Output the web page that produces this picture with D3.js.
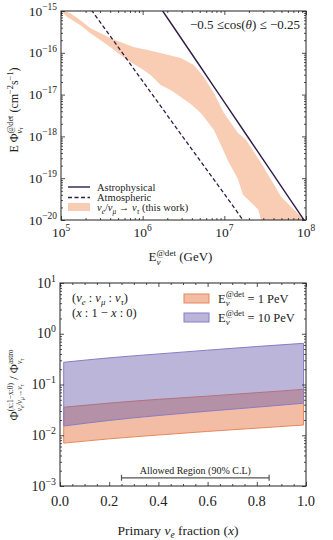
<!DOCTYPE html>
<html>
<head>
  <meta charset="utf-8">
  <script src="https://d3js.org/d3.v7.min.js"></script>
  <style>
    body { margin: 0; background: #fff; }
    text { white-space: pre; }
  </style>
</head>
<body>
<script>
  "use strict";

  // ---- top panel: tau flux at detector vs energy ----
  var energyTicks = [1e5, 1e6, 1e7, 1e8];
  var energyExp = ["5", "6", "7", "8"];
  var fluxTicks = [1e-15, 1e-16, 1e-17, 1e-18, 1e-19, 1e-20];
  var fluxExp = ["\u221215", "\u221216", "\u221217", "\u221218", "\u221219", "\u221220"];

  var astroE = [1e6, 2e6, 5e6, 1e7, 2e7, 5e7, 1e8];
  var astroFlux = [5.0e-15, 6.9e-16, 4.9e-17, 6.6e-18, 8.9e-19, 6.3e-20, 8.5e-21];

  var atmoE = [1e5, 2e5, 3e5, 1e6, 3e6, 1e7, 2e7];
  var atmoFlux = [1.1e-14, 1.66e-15, 5.5e-16, 2.1e-17, 1.07e-18, 4.2e-20, 6.3e-21];

  var bandUpE = [1e5, 1.29e5, 1.71e5, 2.28e5, 3.02e5, 4.01e5, 5.33e5, 7.7e5, 1.15e6, 1.66e6,
                 2.92e6, 4.23e6, 5.61e6, 7.45e6, 9.89e6, 1.47e7, 1.85e7, 2.82e7, 3.75e7, 4.98e7,
                 7.19e7, 9.55e7];
  var bandUpFlux = [1.05e-15, 8.95e-16, 6.1e-16, 3.92e-16, 2.98e-16, 2.26e-16, 1.81e-16, 1.38e-16, 1.17e-16, 9.9e-17,
                    7.5e-17, 5.1e-17, 2.64e-17, 1.09e-17, 3.63e-18, 1.2e-18, 8.2e-19, 2.31e-19, 9.1e-20, 3.55e-20,
                    1.73e-20, 1.0e-20];
  var bandLoE = [1e5, 1.19e5, 1.71e5, 2.28e5, 3.02e5, 4.01e5, 5.33e5, 7.08e5, 9.4e5, 1.25e6,
                 1.66e6, 2.2e6, 2.92e6, 3.88e6, 5.15e6, 6.28e6, 7.45e6, 9.08e6, 1.11e7, 1.47e7,
                 1.69e7, 2.59e7, 2.82e7];
  var bandLoFlux = [1.0e-15, 7.18e-16, 4.62e-16, 2.98e-16, 2.02e-16, 1.38e-16, 8.85e-17, 6.03e-17, 4.33e-17, 2.94e-17,
                    1.7e-17, 1.29e-17, 8.8e-18, 5.96e-18, 3.63e-18, 2.21e-18, 1.42e-18, 6.2e-19, 2.6e-19, 9.5e-20,
                    4.0e-20, 1.8e-20, 1.0e-20];

  // ---- bottom panel: ratio vs primary nu_e fraction ----
  var fracTicks = [0, 0.2, 0.4, 0.6, 0.8, 1.0];
  var ratioTicks = [10, 1, 0.1, 0.01, 0.001];
  var ratioExp = ["1", "0", "\u22121", "\u22122", "\u22123"];

  var fracX = [0.015, 0.2, 0.4, 0.6, 0.8, 0.99];
  var pev1Lo = [0.0070, 0.0085, 0.0101, 0.0119, 0.0138, 0.0159];
  var pev1Hi = [0.0356, 0.043, 0.051, 0.059, 0.069, 0.080];
  var pev10Lo = [0.0152, 0.0196, 0.0245, 0.0298, 0.0357, 0.0427];
  var pev10Hi = [0.274, 0.335, 0.40, 0.475, 0.56, 0.648];

  var allowedRange = [0.25, 0.85];
  var allowedY = 0.00145;

  var FONT = "'Liberation Serif', 'DejaVu Serif', serif";
  var INK = "#222";
  var DARK = "#2f1d48";
  var PEACH = "#f9cdb4";

  var svg = d3.select("body").append("svg")
      .attr("width", 333)
      .attr("height", 540);

  // text with super/subscripts, parts = [str, {y, s, i, mark, stack}]
  function rich(parent, x, y, parts, size, anchor, rotate) {
    var g = parent.append("g")
        .attr("transform", "translate(" + x + "," + y + ")" + (rotate ? " rotate(" + rotate + ")" : ""));
    var t = g.append("text")
        .attr("font-family", FONT)
        .attr("font-size", size)
        .attr("fill", INK);
    var cx = 0, maxEnd = 0, markX = 0;
    parts.forEach(function (p) {
      var str = typeof p === "string" ? p : p[0];
      var o = typeof p === "string" ? {} : (p[1] || {});
      var px = o.stack ? markX : (o.y ? cx : maxEnd);
      if (o.mark) markX = px;
      var sp = t.append("tspan")
          .attr("x", px)
          .attr("y", (o.y || 0) * size)
          .attr("font-size", size * (o.s || 1))
          .text(str);
      if (o.i) sp.attr("font-style", "italic");
      var w = sp.node().getComputedTextLength();
      cx = px + w;
      maxEnd = Math.max(maxEnd, cx);
    });
    var dx = anchor === "middle" ? -maxEnd / 2 : anchor === "end" ? -maxEnd : 0;
    t.attr("transform", "translate(" + dx + ",0)");
    return g;
  }

  var SUP = {y: -0.42, s: 0.7};

  function minorLog(lo, hi) {
    var out = [];
    for (var e = lo; e < hi; e++) {
      for (var k = 2; k < 10; k++) out.push(k * Math.pow(10, e));
    }
    return out;
  }

  function frameTicks(g, x, y, w, h, xMaj, xMin, yMaj, yMin) {
    var axes = [
      [d3.axisBottom(x), "translate(0," + h + ")", xMaj, xMin],
      [d3.axisTop(x), "translate(0,0)", xMaj, xMin],
      [d3.axisLeft(y), "translate(0,0)", yMaj, yMin],
      [d3.axisRight(y), "translate(" + w + ",0)", yMaj, yMin]
    ];
    axes.forEach(function (a) {
      [[a[2], -4], [a[3], -2]].forEach(function (set) {
        var ax = a[0].tickValues(set[0]).tickSize(set[1]).tickSizeOuter(0).tickFormat("");
        var sel = g.append("g").attr("transform", a[1]).call(ax);
        sel.select(".domain").remove();
        sel.selectAll("line").attr("stroke", INK).attr("stroke-width", 0.8);
      });
    });
    g.append("rect")
        .attr("width", w).attr("height", h)
        .attr("fill", "none").attr("stroke", INK).attr("stroke-width", 1);
  }

  /* ---------------- top panel ---------------- */
  var t0 = {left: 61, top: 11, w: 245, h: 209};
  var topG = svg.append("g").attr("transform", "translate(" + t0.left + "," + t0.top + ")");
  var xE = d3.scaleLog().domain([1e5, 1e8]).range([0, t0.w]);
  var yF = d3.scaleLog().domain([1e-20, 1e-15]).range([t0.h, 0]);

  topG.append("clipPath").attr("id", "clipTop")
    .append("rect").attr("width", t0.w).attr("height", t0.h);
  var plotTop = topG.append("g").attr("clip-path", "url(#clipTop)");

  var bandPts = bandUpE.map(function (e, i) { return [e, bandUpFlux[i]]; })
      .concat(bandLoE.map(function (e, i) { return [e, bandLoFlux[i]]; }).reverse());
  plotTop.append("path")
      .attr("d", d3.line().x(function (d) { return xE(d[0]); }).y(function (d) { return yF(d[1]); })(bandPts) + "Z")
      .attr("fill", PEACH)
      .attr("stroke", "none");

  var lineE = d3.line()
      .x(function (d) { return xE(d[0]); })
      .y(function (d) { return yF(d[1]); })
      .curve(d3.curveMonotoneX);

  plotTop.append("path")
      .attr("d", lineE(atmoE.map(function (e, i) { return [e, atmoFlux[i]]; })))
      .attr("fill", "none").attr("stroke", DARK).attr("stroke-width", 1.3)
      .attr("stroke-dasharray", "4,2.5");
  plotTop.append("path")
      .attr("d", lineE(astroE.map(function (e, i) { return [e, astroFlux[i]]; })))
      .attr("fill", "none").attr("stroke", DARK).attr("stroke-width", 1.4);

  frameTicks(topG, xE, yF, t0.w, t0.h, energyTicks, minorLog(5, 8), fluxTicks, minorLog(-20, -15));

  energyTicks.forEach(function (v, i) {
    rich(topG, xE(v), t0.h + 17, ["10", [energyExp[i], SUP]], 13.5, "middle");
  });
  fluxTicks.forEach(function (v, i) {
    rich(topG, -4, yF(v) + 4.5, ["10", [fluxExp[i], SUP]], 13.5, "end");
  });

  rich(topG, t0.w / 2 - 3, t0.h + 41,
       ["E", ["\u03bd", {y: 0.3, s: 0.7, i: true, mark: true}], ["@det", {y: -0.42, s: 0.7, stack: true}], " (GeV)"],
       13, "middle");
  rich(svg, 18, 110,
       ["E \u03a6", ["\u03bd", {y: 0.32, s: 0.7, i: true, mark: true}], ["\u03c4", {y: 0.45, s: 0.5, i: true}],
        ["@det", {y: -0.42, s: 0.7, stack: true}], " (cm", ["\u22122", SUP], "s", ["\u22121", SUP], ")"],
       12, "middle", -90);

  rich(topG, t0.w - 6, 18,
       ["\u22120.5 \u2264cos(", ["\u03b8", {i: true}], ") \u2264 \u22120.25"], 13, "end");

  // legend
  var lg = topG.append("g").attr("transform", "translate(7,176)");
  lg.append("line").attr("x1", 0).attr("x2", 22).attr("y1", 0).attr("y2", 0)
      .attr("stroke", DARK).attr("stroke-width", 1.4);
  lg.append("line").attr("x1", 0).attr("x2", 22).attr("y1", 10.5).attr("y2", 10.5)
      .attr("stroke", DARK).attr("stroke-width", 1.3).attr("stroke-dasharray", "4,2.5");
  lg.append("rect").attr("x", 0).attr("y", 16).attr("width", 22).attr("height", 8)
      .attr("fill", PEACH);
  rich(lg, 29, 3.5, ["Astrophysical"], 10.5, "start");
  rich(lg, 29, 14, ["Atmospheric"], 10.5, "start");
  rich(lg, 29, 24, [["\u03bd", {i: true}], ["e", {y: 0.25, s: 0.7, i: true}], "/", ["\u03bd", {i: true}],
                    ["\u03bc", {y: 0.25, s: 0.7, i: true}], " \u2192 ", ["\u03bd", {i: true}],
                    ["\u03c4", {y: 0.25, s: 0.7, i: true}], " (this work)"], 10.5, "start");

  /* ---------------- bottom panel ---------------- */
  var b0 = {left: 60, top: 283, w: 246, h: 203};
  var botG = svg.append("g").attr("transform", "translate(" + b0.left + "," + b0.top + ")");
  var xF = d3.scaleLinear().domain([0, 1]).range([0, b0.w]);
  var yR = d3.scaleLog().domain([1e-3, 10]).range([b0.h, 0]);

  function band(lo, hi) {
    return d3.area()
        .x(function (d, i) { return xF(fracX[i]); })
        .y0(function (d, i) { return yR(lo[i]); })
        .y1(function (d, i) { return yR(hi[i]); })
        .curve(d3.curveMonotoneX)(fracX);
  }

  botG.append("path").attr("d", band(pev1Lo, pev1Hi))
      .attr("fill", "#e8875a").attr("fill-opacity", 0.55)
      .attr("stroke", "#e8875a").attr("stroke-width", 1);
  botG.append("path").attr("d", band(pev10Lo, pev10Hi))
      .attr("fill", "#6a5aad").attr("fill-opacity", 0.45)
      .attr("stroke", "#8a7cc4").attr("stroke-width", 1);

  var fracMinor = d3.range(0, 1.0001, 0.05).filter(function (v) { return Math.abs(v * 5 - Math.round(v * 5)) > 1e-6; });
  frameTicks(botG, xF, yR, b0.w, b0.h, fracTicks, fracMinor, ratioTicks, minorLog(-3, 1));

  fracTicks.forEach(function (v) {
    rich(botG, xF(v), b0.h + 20, [v.toFixed(1)], 14.5, "middle");
  });
  ratioTicks.forEach(function (v, i) {
    rich(botG, -4, yR(v) + 4.5, ["10", [ratioExp[i], SUP]], 14, "end");
  });

  // allowed region bar
  var ay = yR(allowedY);
  botG.append("line").attr("x1", xF(allowedRange[0])).attr("x2", xF(allowedRange[1]))
      .attr("y1", ay).attr("y2", ay).attr("stroke", "#555").attr("stroke-width", 1.2);
  allowedRange.forEach(function (v) {
    botG.append("line").attr("x1", xF(v)).attr("x2", xF(v))
        .attr("y1", ay - 3).attr("y2", ay + 3).attr("stroke", "#555").attr("stroke-width", 1.2);
  });
  rich(botG, xF((allowedRange[0] + allowedRange[1]) / 2), ay - 4, ["Allowed Region (90% C.L)"], 10, "middle");

  rich(botG, 12, 19, ["(", ["\u03bd", {i: true}], ["e", {y: 0.25, s: 0.7, i: true}], " : ", ["\u03bd", {i: true}],
                     ["\u03bc", {y: 0.25, s: 0.7, i: true}], " : ", ["\u03bd", {i: true}],
                     ["\u03c4", {y: 0.25, s: 0.7, i: true}], ")"], 12.5, "start");
  rich(botG, 12, 34, ["(", ["x", {i: true}], " : 1 \u2212 ", ["x", {i: true}], " : 0)"], 12.5, "start");

  // legend
  var bl = botG.append("g").attr("transform", "translate(124,11)");
  bl.append("rect").attr("width", 25).attr("height", 9)
      .attr("fill", "#e8875a").attr("fill-opacity", 0.55).attr("stroke", "#e8875a");
  bl.append("rect").attr("y", 19).attr("width", 25).attr("height", 9)
      .attr("fill", "#6a5aad").attr("fill-opacity", 0.45).attr("stroke", "#8a7cc4");
  rich(bl, 34, 8.5, ["E", ["\u03bd", {y: 0.3, s: 0.7, i: true, mark: true}], ["@det", {y: -0.42, s: 0.7, stack: true}],
                     " = 1 PeV"], 12.5, "start");
  rich(bl, 34, 27.5, ["E", ["\u03bd", {y: 0.3, s: 0.7, i: true, mark: true}], ["@det", {y: -0.42, s: 0.7, stack: true}],
                      " = 10 PeV"], 12.5, "start");

  rich(botG, b0.w / 2 - 5, b0.h + 49, ["Primary ", ["\u03bd", {i: true}], ["e", {y: 0.25, s: 0.7, i: true}],
                                      " fraction (", ["x", {i: true}], ")"], 13.5, "middle");
  rich(svg, 18, 385,
       ["\u03a6", ["\u03bd", {y: 0.32, s: 0.6, i: true, mark: true}], ["e", {y: 0.45, s: 0.45, i: true}],
        ["/\u03bd", {y: 0.32, s: 0.6, i: true}], ["\u03bc", {y: 0.45, s: 0.45, i: true}],
        ["\u2192\u03bd", {y: 0.32, s: 0.6, i: true}], ["\u03c4", {y: 0.45, s: 0.45, i: true}],
        ["(x:1\u2212x:0)", {y: -0.42, s: 0.6, stack: true}],
        " / \u03a6", ["\u03bd", {y: 0.32, s: 0.6, i: true, mark: true}], ["\u03c4", {y: 0.45, s: 0.45, i: true}],
        ["astro", {y: -0.42, s: 0.6, stack: true}]],
       12.5, "middle", -90);
</script>
</body>
</html>
